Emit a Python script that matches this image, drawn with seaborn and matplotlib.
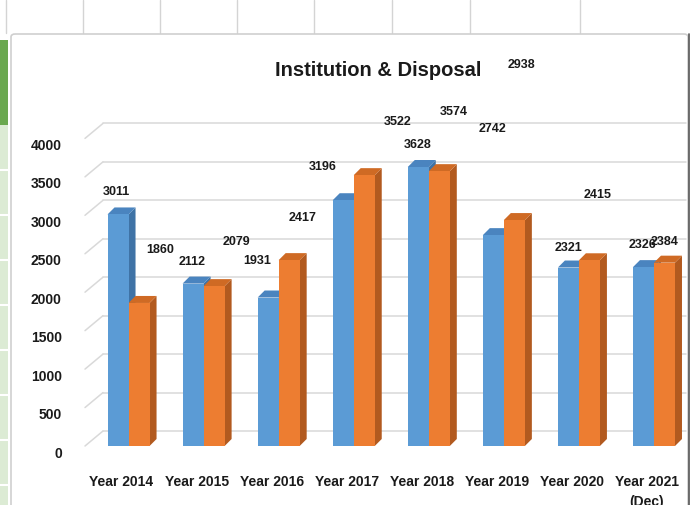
import matplotlib.pyplot as plt
import matplotlib.transforms as mtransforms
from matplotlib.lines import Line2D
from matplotlib.patches import Polygon, Rectangle, FancyBboxPatch
import pandas as pd
import seaborn as sns

years = ['Year 2014', 'Year 2015', 'Year 2016', 'Year 2017',
         'Year 2018', 'Year 2019', 'Year 2020', 'Year 2021\n(Dec)']
institution = [3011, 2112, 1931, 3196, 3628, 2742, 2321, 2326]
disposal = [1860, 2079, 2417, 3522, 3574, 2938, 2415, 2384]
y_ticks = [0, 500, 1000, 1500, 2000, 2500, 3000, 3500, 4000]

# where the (oddly placed) data labels sit, in pixels from the bar top
inst_offsets = [(-2, 22), (-1, 22), (-11, 37), (-21, 33), (-1, 22), (-1, 106), (0, 20), (-1, 22)]
disp_offsets = [(21, 53), (22, 44), (13, 42), (33, 53), (14, 59), (7, 155), (8, 65), (0, 21)]

BLUE = '#5b9bd5'
ORANGE = '#ed7d31'
SIDE = {0: '#3f73a6', 1: '#b25a1f'}
TOP = {0: '#4a84bf', 1: '#cf6a24'}
DEPTH = 7          # px, fake 3d depth of the bars
BACK = (18, 15)    # px, back wall shift of the gridlines

df = pd.DataFrame({
    'year': years * 2,
    'value': institution + disposal,
    'series': ['Institution'] * len(years) + ['Disposal'] * len(years),
})

sns.set_style('white')
plt.rcParams['font.family'] = ['Liberation Sans', 'DejaVu Sans']

fig = plt.figure(figsize=(6.93, 5.05), dpi=100)
W, H = 693, 505

# --- spreadsheet backdrop around the chart ---
for x in [6, 83, 160, 237, 314, 392, 470, 580]:
    fig.add_artist(Line2D([x / W, x / W], [1, 1 - 33 / H], color='#d4d4d4', lw=1, zorder=-5))
fig.add_artist(Rectangle((0, 1 - 125 / H), 8 / W, 85 / H, color='#6aa84f', lw=0, zorder=-5))
fig.add_artist(Rectangle((0, 0), 8 / W, 1 - 125 / H, color='#dcebd4', lw=0, zorder=-5))
for y in range(170, 505, 45):
    fig.add_artist(Line2D([0, 8 / W], [1 - y / H, 1 - y / H], color='white', lw=1.5, zorder=-4))
fig.add_artist(FancyBboxPatch((11 / W, -0.05), 677 / W, 1 - 34 / H + 0.05,
                              boxstyle='round,pad=0,rounding_size=0.006',
                              fc='white', ec='#cfcfcf', lw=1.2, zorder=-5))
fig.add_artist(Line2D([689 / W, 689 / W], [0, 1 - 34 / H], color='#555555', lw=1.2, zorder=-4))

ax = fig.add_axes([91 / W, 59 / H, 600.5 / W, 307.6 / H])
ax.patch.set_alpha(0)

sns.barplot(data=df, x='year', y='value', hue='series', palette=[BLUE, ORANGE],
            width=0.56, saturation=1, legend=False, ax=ax, zorder=3, linewidth=0)

ax.set_xlim(-0.5, 7.5)
ax.set_ylim(0, 4000)
ax.set_yticks(y_ticks)
ax.set_xlabel('')
ax.set_ylabel('')
sns.despine(ax=ax, left=True, bottom=True)
ax.tick_params(length=0)
ax.tick_params(axis='y', pad=21, labelsize=10)
ax.tick_params(axis='x', pad=21, labelsize=10)
for lab in ax.get_yticklabels() + ax.get_xticklabels():
    lab.set_fontweight('bold')
    lab.set_color('#1a1a1a')
shift_y = mtransforms.ScaledTranslation(0, -6 / 100, fig.dpi_scale_trans)
for lab in ax.get_yticklabels():
    lab.set_transform(lab.get_transform() + shift_y)
shift_x = mtransforms.ScaledTranslation(-7 / 100, 0, fig.dpi_scale_trans)
for lab in ax.get_xticklabels():
    lab.set_transform(lab.get_transform() + shift_x)
    lab.set_verticalalignment('top')
    lab.set_linespacing(1.5)

# --- 3d-looking gridlines: diagonal on the side wall, horizontal on the back wall ---
x_front = 85
for t in y_ticks:
    _, yp = ax.transData.transform((0, t))
    ax.add_line(Line2D([x_front, x_front + BACK[0]], [yp, yp + BACK[1]],
                       transform=None, color='#d9d9d9', lw=1.1, zorder=1, clip_on=False))
    ax.add_line(Line2D([x_front + BACK[0], 686], [yp + BACK[1], yp + BACK[1]],
                       transform=None, color='#d9d9d9', lw=1.1, zorder=1, clip_on=False))

# --- side and top faces for every bar ---
for i, cont in enumerate(ax.containers):
    for bar in cont:
        (x0, y0), (x1, y1) = ax.transData.transform(
            [(bar.get_x(), 0), (bar.get_x() + bar.get_width(), bar.get_height())])
        side = [(x1, y0), (x1 + DEPTH, y0 + DEPTH), (x1 + DEPTH, y1 + DEPTH), (x1, y1)]
        top = [(x0, y1), (x0 + DEPTH, y1 + DEPTH), (x1 + DEPTH, y1 + DEPTH), (x1, y1)]
        ax.add_patch(Polygon(side, closed=True, transform=None, fc=SIDE[i], lw=0,
                             zorder=2.5, clip_on=False))
        ax.add_patch(Polygon(top, closed=True, transform=None, fc=TOP[i], lw=0,
                             zorder=2.5, clip_on=False))

# --- data labels ---
for cont, vals, offs in [(ax.containers[0], institution, inst_offsets),
                         (ax.containers[1], disposal, disp_offsets)]:
    for bar, v, (dx, dy) in zip(cont, vals, offs):
        ax.annotate(f'{v}', (bar.get_x() + bar.get_width() / 2, bar.get_height()),
                    xytext=(dx, dy), textcoords='offset pixels', ha='center', va='center',
                    fontsize=9, fontweight='bold', color='#1a1a1a',
                    annotation_clip=False, zorder=5)

fig.text(378 / W, 1 - 70 / H, 'Institution & Disposal', ha='center', va='center',
         fontsize=14.5, fontweight='bold', color='#1a1a1a')

fig.savefig('out.png', dpi=100)
